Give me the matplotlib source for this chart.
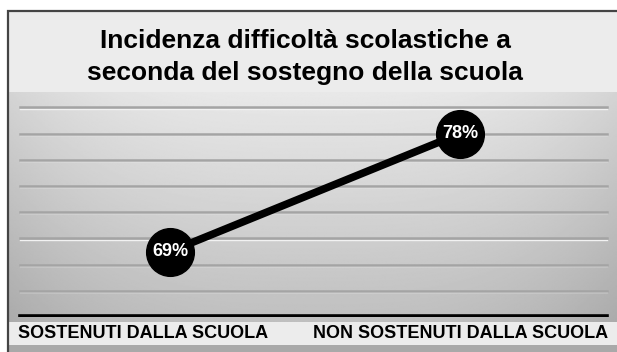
import numpy as np
import matplotlib
matplotlib.use('Agg')
import matplotlib.pyplot as plt

plt.rcParams['font.family'] = ['Liberation Sans', 'DejaVu Sans']

title = "Incidenza difficoltà scolastiche a\nseconda del sostegno della scuola"
categories = ['SOSTENUTI DALLA SCUOLA', 'NON SOSTENUTI DALLA SCUOLA']
values = [69, 78]
grid_vals = [66, 68, 70, 72, 74, 76, 78, 80]

W, H = 617, 352
fig = plt.figure(figsize=(W / 100, H / 100), dpi=100)

def px_box(x0, y0, x1, y1):
    # pixel box (top-left origin) -> figure fraction rect
    return [x0 / W, 1 - y1 / H, (x1 - x0) / W, (y1 - y0) / H]

# background panels
bg = fig.add_axes([0, 0, 1, 1])
bg.set_xlim(0, W)
bg.set_ylim(H, 0)
bg.axis('off')
bg.add_patch(plt.Rectangle((0, 0), W, H, color='white', zorder=0))
bg.add_patch(plt.Rectangle((8, 11), W - 8, 334, facecolor='#ececec',
                           edgecolor='none', zorder=1))
bg.add_patch(plt.Rectangle((8, 345), W - 8, 7, facecolor='#a9a9a9',
                           edgecolor='none', zorder=1))
bg.plot([8, 8, W], [352, 11, 11], color='#444444', lw=1.6, zorder=5,
        solid_capstyle='butt', solid_joinstyle='miter')

# shaded plot panel
ny, nx = 200, 400
yy, xx = np.mgrid[0:1:ny * 1j, 0:1:nx * 1j]
shade = 0.91 - 0.16 * yy - 0.08 * (np.abs(xx - 0.5) * 2) ** 3
bg.imshow(shade, cmap='gray', vmin=0, vmax=1, extent=(9, W, 322, 92),
          aspect='auto', interpolation='bilinear', zorder=2)

bg.text(305, 57, title, ha='center', va='center', fontsize=19,
        fontweight='bold', color='black', linespacing=1.38, zorder=6)

# data axes
ax = fig.add_axes(px_box(8, 92, W, 317))
ax.patch.set_alpha(0)
ax.set_xlim(-162 / 290, 1 + 157 / 290)
ax.set_ylim(64, 64 + 225 / 13.1)
ax.axis('off')

x0f, x1f = 12 / 609, 599 / 609
for g in grid_vals:
    ax.axhline(g - 0.09, x0f, x1f, color='#f2f2f2', lw=1.0, zorder=1)
    ax.axhline(g, x0f, x1f, color='#a4a4a4', lw=1.8, zorder=2)
ax.axhline(64.1, x0f, x1f, color='black', lw=2.6, zorder=3)

xs = np.arange(len(values))
ax.plot(xs, values, color='black', lw=5.5, zorder=4, solid_capstyle='round')
ax.scatter(xs, values, s=1180, color='black', zorder=5)
for x, v in zip(xs, values):
    ax.text(x, v, f'{v}%', ha='center', va='center', color='white',
            fontsize=13, fontweight='bold', zorder=6)

# category labels
bg.text(143, 334, categories[0], ha='center', va='center', fontsize=13,
        fontweight='bold', color='black', zorder=6)
bg.text(461, 334, categories[1], ha='center', va='center', fontsize=13,
        fontweight='bold', color='black', zorder=6)

fig.savefig('out.png', dpi=100)
